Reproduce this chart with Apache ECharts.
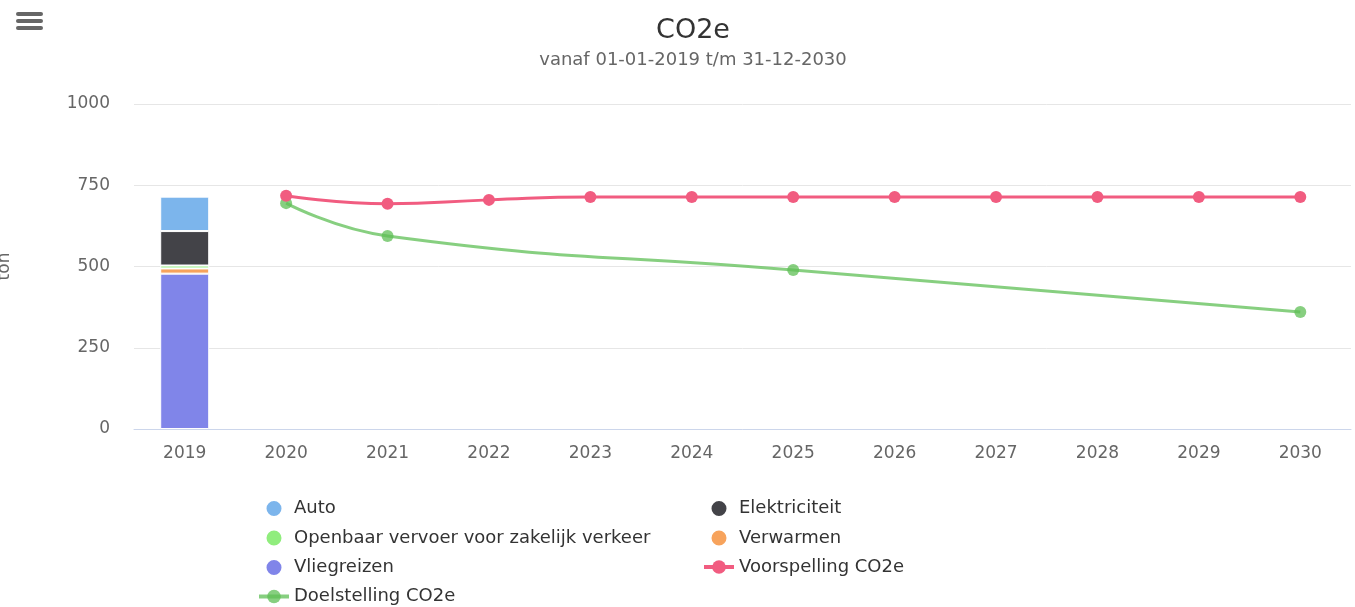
<!DOCTYPE html>
<html>
<head>
<meta charset="utf-8">
<script src="https://cdn.jsdelivr.net/npm/echarts@6/dist/echarts.min.js"></script>
<style>
  html, body { margin: 0; padding: 0; background: #fff; }
  #chart { width: 1355px; height: 607px; }
</style>
</head>
<body>
<div id="chart"></div>
<script>
// jaren op de x-as
var jaren = ['2019', '2020', '2021', '2022', '2023', '2024', '2025', '2026', '2027', '2028', '2029', '2030']

// gestapelde kolom 2019 (ton CO2e)
var auto = [106, null, null, null, null, null, null, null, null, null, null, null]
var elektriciteit = [106, null, null, null, null, null, null, null, null, null, null, null]
var openbaarVervoer = [9, null, null, null, null, null, null, null, null, null, null, null]
var verwarmen = [16, null, null, null, null, null, null, null, null, null, null, null]
var vliegreizen = [478, null, null, null, null, null, null, null, null, null, null, null]

// lijnen
var voorspelling = [null, 718, 693, 705, 714, 714, 714, 714, 714, 714, 714, 714]
var doelstelling = [null, 695, 594, null, null, null, 489, null, null, null, null, 360]

var yTicks = [0, 250, 500, 750, 1000]

var font = 'DejaVu Sans, Verdana, sans-serif'

function barSerie (name, data, color) {
  return {
    name: name,
    type: 'bar',
    stack: 'totaal',
    data: data,
    barWidth: 49,
    itemStyle: { color: color, borderColor: '#fff', borderWidth: 1 }
  }
}

function legendBlok (left, top, items) {
  return {
    orient: 'vertical',
    left: left,
    top: top,
    padding: 0,
    itemWidth: 30,
    itemHeight: 17,
    itemGap: 10.5,
    textStyle: { fontSize: 18, color: '#333', fontFamily: font },
    data: items
  }
}

var myChart = echarts.init(document.getElementById('chart'))
myChart.setOption({
  animation: false,
  textStyle: { fontFamily: font },
  title: {
    text: 'CO2e',
    subtext: 'vanaf 01-01-2019 t/m 31-12-2030',
    left: 688,
    textAlign: 'center',
    top: 12,
    itemGap: 7,
    textStyle: { fontSize: 27, fontWeight: 'normal', color: '#333', fontFamily: font },
    subtextStyle: { fontSize: 18, color: '#666', fontFamily: font }
  },
  graphic: [
    { type: 'rect', shape: { x: 16, y: 12, width: 27, height: 4, r: 2 }, style: { fill: '#666' } },
    { type: 'rect', shape: { x: 16, y: 19, width: 27, height: 4, r: 2 }, style: { fill: '#666' } },
    { type: 'rect', shape: { x: 16, y: 26, width: 27, height: 4, r: 2 }, style: { fill: '#666' } }
  ],
  legend: [
    legendBlok(257, 499, [
      { name: 'Auto', icon: 'circle' },
      { name: 'Openbaar vervoer voor zakelijk verkeer', icon: 'circle' },
      { name: 'Vliegreizen', icon: 'circle' },
      { name: 'Doelstelling CO2e', lineStyle: { width: 4 } }
    ]),
    legendBlok(702, 499, [
      { name: 'Elektriciteit', icon: 'circle' },
      { name: 'Verwarmen', icon: 'circle' },
      { name: 'Voorspelling CO2e', lineStyle: { width: 4 } }
    ])
  ],
  grid: {
    left: 134,
    right: 4,
    top: 104,
    bottom: 178,
    outerBoundsMode: 'none'
  },
  xAxis: {
    type: 'category',
    data: jaren,
    axisLine: { lineStyle: { color: '#ccd6eb' } },
    axisTick: { show: false },
    axisLabel: { color: '#666', fontSize: 17, margin: 16, fontFamily: font }
  },
  yAxis: {
    type: 'value',
    min: yTicks[0],
    max: yTicks[yTicks.length - 1],
    interval: 250,
    name: 'ton',
    nameLocation: 'middle',
    nameGap: 121,
    nameTextStyle: { color: '#666', fontSize: 17, fontFamily: font },
    axisLabel: {
      color: '#666',
      fontSize: 17,
      margin: 24,
      fontFamily: font,
      formatter: function (v) { return String(v) }
    },
    splitLine: { lineStyle: { color: '#e6e6e6' } }
  },
  series: [
    barSerie('Vliegreizen', vliegreizen, '#8085e9'),
    barSerie('Verwarmen', verwarmen, '#f7a35c'),
    barSerie('Openbaar vervoer voor zakelijk verkeer', openbaarVervoer, '#90ed7d'),
    barSerie('Elektriciteit', elektriciteit, '#434348'),
    barSerie('Auto', auto, '#7cb5ec'),
    {
      name: 'Voorspelling CO2e',
      type: 'line',
      data: voorspelling,
      smooth: true,
      symbol: 'circle',
      symbolSize: 12,
      lineStyle: { color: '#f15c80', width: 3 },
      itemStyle: { color: '#f15c80' },
      z: 4
    },
    {
      name: 'Doelstelling CO2e',
      type: 'line',
      data: doelstelling,
      connectNulls: true,
      smooth: true,
      symbol: 'circle',
      symbolSize: 12,
      lineStyle: { color: '#5fbf55', width: 3, opacity: 0.75 },
      itemStyle: { color: '#5fbf55', opacity: 0.75 },
      z: 3
    }
  ]
})
</script>
</body>
</html>
